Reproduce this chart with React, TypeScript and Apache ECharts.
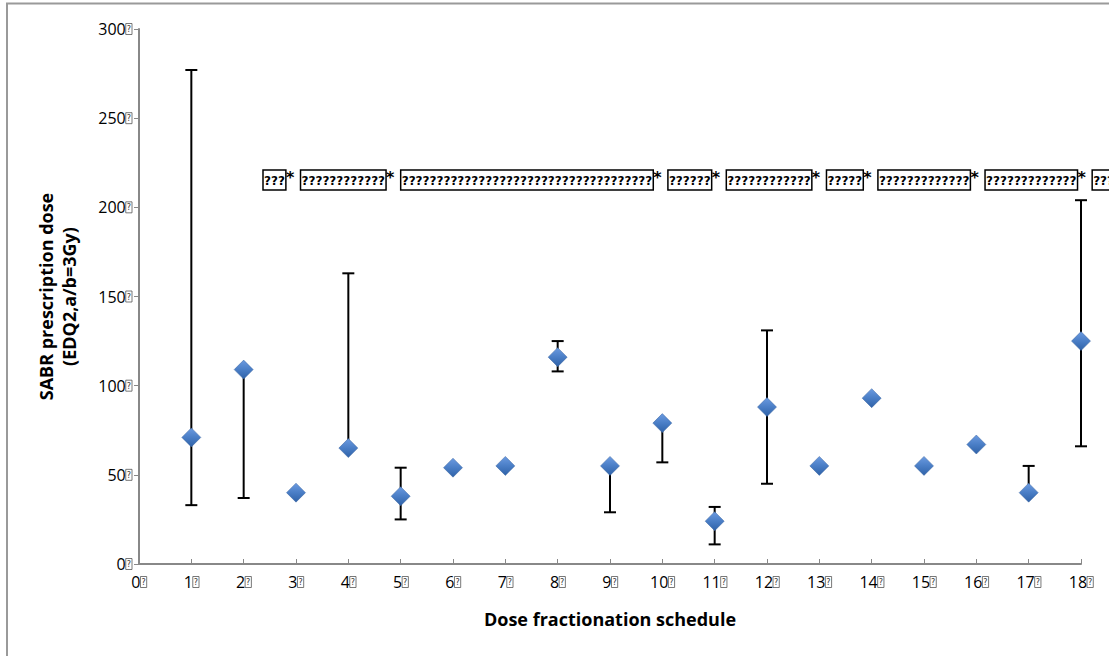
import React, { useEffect, useRef } from "react";
import * as echarts from "echarts";

const schedules = [1, 2, 3, 4, 5, 6, 7, 8, 9, 10, 11, 12, 13, 14, 15, 16, 17, 18];
const doses = [71, 109, 40, 65, 38, 54, 55, 116, 55, 79, 24, 88, 55, 93, 55, 67, 40, 125];
const lowDoses = [33, 37, 40, 65, 25, 54, 55, 108, 29, 57, 11, 45, 55, 93, 55, 67, 40, 66];
const highDoses = [277, 109, 40, 163, 54, 54, 55, 125, 55, 79, 32, 131, 55, 93, 55, 67, 55, 204];
const xTicks = [0, 18, 1];
const yTicks = [0, 300, 50];
const annotationGroups = [3, 12, 36, 6, 12, 5, 13, 13, 5];

export default function App() {
  const ref = useRef<HTMLDivElement>(null);
  useEffect(() => {
    if (!ref.current) return;
    const chart = echarts.init(ref.current, undefined, { renderer: "svg" });
    const font = "Open Sans";
    const tickRich = {
      q: {
        fontSize: 8,
        fontFamily: "DejaVu Sans",
        color: "#333",
        borderColor: "#555",
        borderWidth: 0.8,
        padding: [2, 1, 1, 1],
        lineHeight: 10,
      },
    };
    const scatterData = schedules.map((x, i) => [x, doses[i]]);
    const errData = schedules
      .map((x, i) => [x, lowDoses[i], highDoses[i]])
      .filter((d) => d[1] !== d[2]);
    const annText = annotationGroups
      .map((n) => "{b|" + "?".repeat(n) + "}{s|*}")
      .join(" ");

    chart.setOption({
      animation: false,
      backgroundColor: "#fff",
      grid: { left: 139, right: 28, top: 29, bottom: 92, containLabel: false },
      xAxis: {
        type: "value",
        min: xTicks[0],
        max: xTicks[1],
        interval: xTicks[2],
        name: "Dose fractionation schedule",
        nameLocation: "middle",
        nameGap: 46,
        nameTextStyle: { fontFamily: font, fontWeight: "bold", fontSize: 18, color: "#000" },
        axisLine: { lineStyle: { color: "#888", width: 2 } },
        axisTick: { inside: true, length: 5, lineStyle: { color: "#888", width: 1 } },
        splitLine: { show: false },
        axisLabel: {
          formatter: (v: number) => v + "{q|?}",
          rich: tickRich,
          fontFamily: font,
          fontSize: 16,
          color: "#000",
          margin: 10,
        },
      },
      yAxis: {
        type: "value",
        min: yTicks[0],
        max: yTicks[1],
        interval: yTicks[2],
        name: "SABR prescription dose\n(EDQ2,a/b=3Gy)",
        nameLocation: "middle",
        nameGap: 59,
        nameRotate: 90,
        nameTextStyle: { fontFamily: font, fontWeight: "bold", fontSize: 18, color: "#000", lineHeight: 23 },
        axisLine: { show: true, lineStyle: { color: "#888", width: 2 } },
        axisTick: { show: true, inside: false, length: 5, lineStyle: { color: "#888", width: 1 } },
        splitLine: { show: false },
        axisLabel: {
          formatter: (v: number) => v + "{q|?}",
          rich: tickRich,
          fontFamily: font,
          fontSize: 16,
          color: "#000",
          margin: 7,
        },
      },
      series: [
        {
          type: "custom",
          z: 1,
          data: errData,
          renderItem: (params: any, api: any) => {
            const x = api.value(0);
            const lo = api.coord([x, api.value(1)]);
            const hi = api.coord([x, api.value(2)]);
            const cw = 6;
            const style = { stroke: "#000", lineWidth: 2 };
            return {
              type: "group",
              children: [
                { type: "line", shape: { x1: lo[0], y1: lo[1], x2: hi[0], y2: hi[1] }, style },
                { type: "line", shape: { x1: lo[0] - cw, y1: lo[1], x2: lo[0] + cw, y2: lo[1] }, style },
                { type: "line", shape: { x1: hi[0] - cw, y1: hi[1], x2: hi[0] + cw, y2: hi[1] }, style },
              ],
            };
          },
        },
        {
          type: "scatter",
          z: 3,
          symbol: "diamond",
          symbolSize: [19, 19],
          data: scatterData,
          itemStyle: {
            opacity: 1,
            color: new echarts.graphic.LinearGradient(0, 0, 0, 1, [
              { offset: 0, color: "#6b9ae0" },
              { offset: 0.5, color: "#4a7ec6" },
              { offset: 1, color: "#2f62a8" },
            ]),
            borderColor: "#3a65a0",
            borderWidth: 0.5,
          },
        },
      ],
      graphic: [
        {
          type: "rect",
          shape: { x: 7, y: 3.5, width: 1200, height: 800 },
          style: { fill: "none", stroke: "#9a9a9a", lineWidth: 2 },
          silent: true,
        },
        {
          type: "text",
          x: 263,
          y: 180,
          style: {
            text: annText,
            fontFamily: "DejaVu Sans",
            fontWeight: "bold",
            fontSize: 18,
            fill: "#000",
            verticalAlign: "middle",
            rich: {
              b: {
                fontFamily: "DejaVu Sans",
                fontWeight: "bold",
                fontSize: 12,
                borderColor: "#000",
                borderWidth: 1.5,
                padding: [5, 1, 3, 1],
                lineHeight: 14,
              },
              s: {
                fontFamily: "DejaVu Sans",
                fontWeight: "bold",
                fontSize: 16,
                padding: [0, 0, 6, 0],
                lineHeight: 16,
              },
            },
          },
        },
      ],
    });
    return () => chart.dispose();
  }, []);
  return (
    <div
      ref={ref}
      style={{ position: "absolute", left: 0, top: 0, width: 1109, height: 656 }}
    />
  );
}
